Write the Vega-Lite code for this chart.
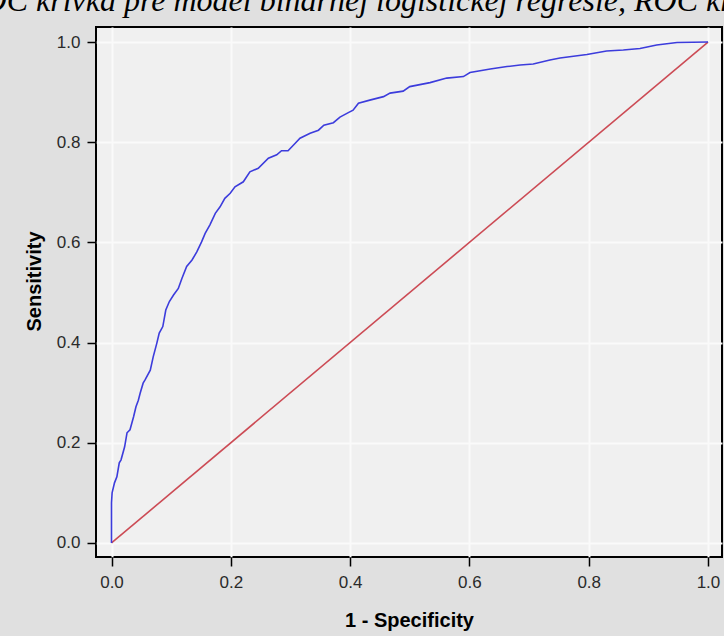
{
  "$schema": "https://vega.github.io/schema/vega-lite/v6.json",
  "autosize": "none",
  "width": 626,
  "height": 530,
  "padding": {"left": 96, "top": 27, "right": 2, "bottom": 79},
  "background": "#e0e0e0",
  "title": {
    "text": "ROC krivka pre model binárnej logistickej regresie, ROC krivka",
    "anchor": "start",
    "frame": "group",
    "font": "Liberation Serif",
    "fontStyle": "italic",
    "fontWeight": "normal",
    "fontSize": 32,
    "color": "#000000",
    "baseline": "alphabetic",
    "offset": 17,
    "dx": -132,
    "dy": 33
  },
  "config": {
    "view": {"fill": "#f0f0f0", "stroke": "#000000", "strokeWidth": 2},
    "axis": {
      "domain": false,
      "grid": true,
      "gridColor": "#fafafa",
      "gridWidth": 2,
      "tickColor": "#000000",
      "tickWidth": 1.5,
      "tickSize": 9,
      "labelFont": "Liberation Sans",
      "labelFontSize": 17,
      "labelColor": "#2a2a2a",
      "titleFont": "Liberation Sans",
      "titleFontSize": 20,
      "titleFontWeight": "bold",
      "titleColor": "#000000"
    }
  },
  "encoding": {
    "x": {
      "field": "x",
      "type": "quantitative",
      "scale": {"domain": [-0.026, 1.0235], "nice": false, "zero": false},
      "axis": {"title": "1 - Specificity", "values": [0, 0.2, 0.4, 0.6, 0.8, 1.0], "format": ".1f", "labelPadding": 8, "titlePadding": 20}
    },
    "y": {
      "field": "y",
      "type": "quantitative",
      "scale": {"domain": [-0.028, 1.03], "nice": false, "zero": false},
      "axis": {"title": "Sensitivity", "values": [0, 0.2, 0.4, 0.6, 0.8, 1.0], "format": ".1f", "labelPadding": 7, "titlePadding": 12, "titleY": 254}
    }
  },
  "layer": [
    {
      "data": {"values": [{"x": 0, "y": 0}, {"x": 1, "y": 1}]},
      "mark": {"type": "line", "color": "#cc4b55", "strokeWidth": 1.6, "clip": true},
      "encoding": {"order": {"value": null}}
    },
    {
      "data": {"values": [
        {"x": 0, "y": 0}, {"x": 0, "y": 0.08}, {"x": 0.001, "y": 0.1}, {"x": 0.005, "y": 0.12}, {"x": 0.009, "y": 0.132},
        {"x": 0.013, "y": 0.16}, {"x": 0.016, "y": 0.166}, {"x": 0.022, "y": 0.192}, {"x": 0.026, "y": 0.22}, {"x": 0.031, "y": 0.226},
        {"x": 0.037, "y": 0.252}, {"x": 0.041, "y": 0.272}, {"x": 0.045, "y": 0.285}, {"x": 0.048, "y": 0.299}, {"x": 0.053, "y": 0.319},
        {"x": 0.056, "y": 0.325}, {"x": 0.065, "y": 0.345}, {"x": 0.07, "y": 0.372}, {"x": 0.076, "y": 0.399}, {"x": 0.08, "y": 0.419},
        {"x": 0.086, "y": 0.432}, {"x": 0.091, "y": 0.465}, {"x": 0.097, "y": 0.482}, {"x": 0.104, "y": 0.495}, {"x": 0.112, "y": 0.508},
        {"x": 0.118, "y": 0.528}, {"x": 0.126, "y": 0.552}, {"x": 0.135, "y": 0.565}, {"x": 0.143, "y": 0.581}, {"x": 0.151, "y": 0.601},
        {"x": 0.157, "y": 0.618}, {"x": 0.165, "y": 0.635}, {"x": 0.174, "y": 0.658}, {"x": 0.182, "y": 0.671}, {"x": 0.19, "y": 0.688},
        {"x": 0.199, "y": 0.698}, {"x": 0.207, "y": 0.711}, {"x": 0.221, "y": 0.721}, {"x": 0.232, "y": 0.741}, {"x": 0.246, "y": 0.748},
        {"x": 0.263, "y": 0.768}, {"x": 0.277, "y": 0.775}, {"x": 0.285, "y": 0.783}, {"x": 0.296, "y": 0.783}, {"x": 0.308, "y": 0.798},
        {"x": 0.316, "y": 0.808}, {"x": 0.333, "y": 0.818}, {"x": 0.347, "y": 0.824}, {"x": 0.356, "y": 0.834}, {"x": 0.372, "y": 0.839},
        {"x": 0.383, "y": 0.85}, {"x": 0.397, "y": 0.859}, {"x": 0.405, "y": 0.864}, {"x": 0.414, "y": 0.878}, {"x": 0.433, "y": 0.884},
        {"x": 0.456, "y": 0.891}, {"x": 0.467, "y": 0.898}, {"x": 0.489, "y": 0.902}, {"x": 0.5, "y": 0.911}, {"x": 0.534, "y": 0.919},
        {"x": 0.562, "y": 0.928}, {"x": 0.59, "y": 0.931}, {"x": 0.601, "y": 0.939}, {"x": 0.635, "y": 0.946}, {"x": 0.663, "y": 0.951},
        {"x": 0.685, "y": 0.954}, {"x": 0.707, "y": 0.956}, {"x": 0.735, "y": 0.964}, {"x": 0.752, "y": 0.968}, {"x": 0.797, "y": 0.975},
        {"x": 0.83, "y": 0.982}, {"x": 0.858, "y": 0.984}, {"x": 0.886, "y": 0.987}, {"x": 0.914, "y": 0.994}, {"x": 0.948, "y": 0.999},
        {"x": 1, "y": 1}
      ]},
      "mark": {"type": "line", "color": "#3c3cdc", "strokeWidth": 1.6, "clip": true},
      "encoding": {"order": {"value": null}}
    }
  ]
}
